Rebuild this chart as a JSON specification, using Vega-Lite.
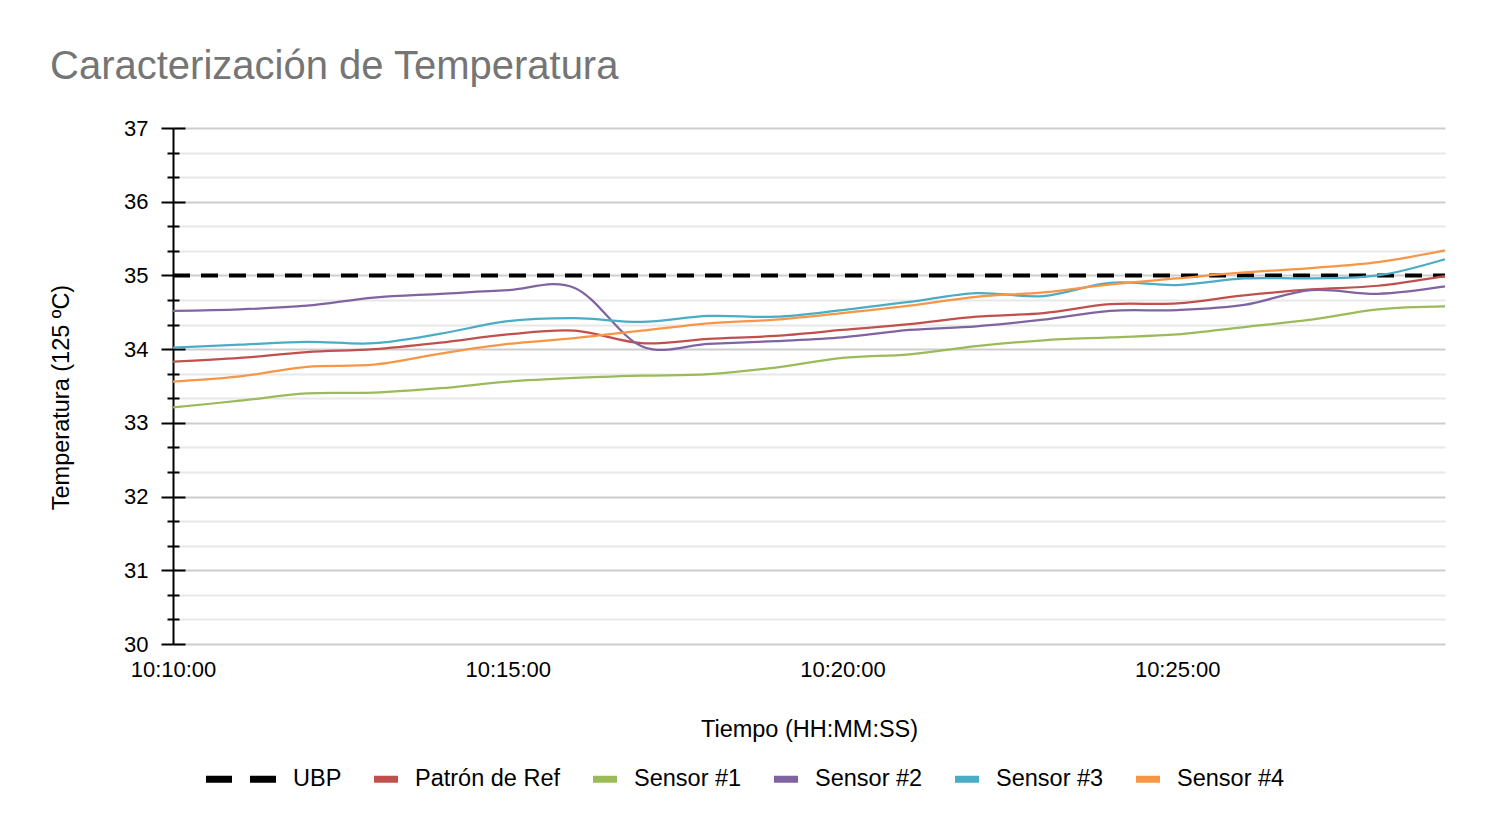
{
  "$schema": "https://vega.github.io/schema/vega-lite/v6.json",
  "width": 1272,
  "height": 516,
  "autosize": {"type": "none"},
  "padding": {"left": 173, "top": 128, "right": 50, "bottom": 187},
  "background": "white",
  "title": {"text": "Caracterización de Temperatura", "anchor": "start", "frame": "group", "dx": -123, "dy": 50, "offset": 48, "baseline": "alphabetic", "font": "Liberation Sans", "fontSize": 40, "fontWeight": "normal", "color": "#757575"},
  "config": {"view": {"stroke": null}, "font": "Liberation Sans"},
  "data": {"values": [
    {"t": "2020-01-01T10:10:00", "s": "UBP", "v": 35},
    {"t": "2020-01-01T10:29:00", "s": "UBP", "v": 35},
    {"t": "2020-01-01T10:10:00", "s": "Patrón de Ref", "v": 33.83},
    {"t": "2020-01-01T10:11:00", "s": "Patrón de Ref", "v": 33.88},
    {"t": "2020-01-01T10:12:00", "s": "Patrón de Ref", "v": 33.96},
    {"t": "2020-01-01T10:13:00", "s": "Patrón de Ref", "v": 34.00},
    {"t": "2020-01-01T10:14:00", "s": "Patrón de Ref", "v": 34.09},
    {"t": "2020-01-01T10:15:00", "s": "Patrón de Ref", "v": 34.20},
    {"t": "2020-01-01T10:16:00", "s": "Patrón de Ref", "v": 34.25},
    {"t": "2020-01-01T10:17:00", "s": "Patrón de Ref", "v": 34.08},
    {"t": "2020-01-01T10:18:00", "s": "Patrón de Ref", "v": 34.14},
    {"t": "2020-01-01T10:19:00", "s": "Patrón de Ref", "v": 34.18},
    {"t": "2020-01-01T10:20:00", "s": "Patrón de Ref", "v": 34.26},
    {"t": "2020-01-01T10:21:00", "s": "Patrón de Ref", "v": 34.34},
    {"t": "2020-01-01T10:22:00", "s": "Patrón de Ref", "v": 34.44},
    {"t": "2020-01-01T10:23:00", "s": "Patrón de Ref", "v": 34.49},
    {"t": "2020-01-01T10:24:00", "s": "Patrón de Ref", "v": 34.61},
    {"t": "2020-01-01T10:25:00", "s": "Patrón de Ref", "v": 34.62},
    {"t": "2020-01-01T10:26:00", "s": "Patrón de Ref", "v": 34.73},
    {"t": "2020-01-01T10:27:00", "s": "Patrón de Ref", "v": 34.81},
    {"t": "2020-01-01T10:28:00", "s": "Patrón de Ref", "v": 34.86},
    {"t": "2020-01-01T10:29:00", "s": "Patrón de Ref", "v": 34.99},
    {"t": "2020-01-01T10:10:00", "s": "Sensor #1", "v": 33.21},
    {"t": "2020-01-01T10:11:00", "s": "Sensor #1", "v": 33.30},
    {"t": "2020-01-01T10:12:00", "s": "Sensor #1", "v": 33.40},
    {"t": "2020-01-01T10:13:00", "s": "Sensor #1", "v": 33.41},
    {"t": "2020-01-01T10:14:00", "s": "Sensor #1", "v": 33.47},
    {"t": "2020-01-01T10:15:00", "s": "Sensor #1", "v": 33.56},
    {"t": "2020-01-01T10:16:00", "s": "Sensor #1", "v": 33.61},
    {"t": "2020-01-01T10:17:00", "s": "Sensor #1", "v": 33.64},
    {"t": "2020-01-01T10:18:00", "s": "Sensor #1", "v": 33.66},
    {"t": "2020-01-01T10:19:00", "s": "Sensor #1", "v": 33.75},
    {"t": "2020-01-01T10:20:00", "s": "Sensor #1", "v": 33.88},
    {"t": "2020-01-01T10:21:00", "s": "Sensor #1", "v": 33.93},
    {"t": "2020-01-01T10:22:00", "s": "Sensor #1", "v": 34.04},
    {"t": "2020-01-01T10:23:00", "s": "Sensor #1", "v": 34.12},
    {"t": "2020-01-01T10:24:00", "s": "Sensor #1", "v": 34.16},
    {"t": "2020-01-01T10:25:00", "s": "Sensor #1", "v": 34.20},
    {"t": "2020-01-01T10:26:00", "s": "Sensor #1", "v": 34.30},
    {"t": "2020-01-01T10:27:00", "s": "Sensor #1", "v": 34.40},
    {"t": "2020-01-01T10:28:00", "s": "Sensor #1", "v": 34.54},
    {"t": "2020-01-01T10:29:00", "s": "Sensor #1", "v": 34.58},
    {"t": "2020-01-01T10:10:00", "s": "Sensor #2", "v": 34.52},
    {"t": "2020-01-01T10:11:00", "s": "Sensor #2", "v": 34.54},
    {"t": "2020-01-01T10:12:00", "s": "Sensor #2", "v": 34.59},
    {"t": "2020-01-01T10:13:00", "s": "Sensor #2", "v": 34.70},
    {"t": "2020-01-01T10:14:00", "s": "Sensor #2", "v": 34.75},
    {"t": "2020-01-01T10:15:00", "s": "Sensor #2", "v": 34.80},
    {"t": "2020-01-01T10:16:00", "s": "Sensor #2", "v": 34.83},
    {"t": "2020-01-01T10:17:00", "s": "Sensor #2", "v": 34.04},
    {"t": "2020-01-01T10:18:00", "s": "Sensor #2", "v": 34.07},
    {"t": "2020-01-01T10:19:00", "s": "Sensor #2", "v": 34.11},
    {"t": "2020-01-01T10:20:00", "s": "Sensor #2", "v": 34.16},
    {"t": "2020-01-01T10:21:00", "s": "Sensor #2", "v": 34.26},
    {"t": "2020-01-01T10:22:00", "s": "Sensor #2", "v": 34.31},
    {"t": "2020-01-01T10:23:00", "s": "Sensor #2", "v": 34.40},
    {"t": "2020-01-01T10:24:00", "s": "Sensor #2", "v": 34.52},
    {"t": "2020-01-01T10:25:00", "s": "Sensor #2", "v": 34.53},
    {"t": "2020-01-01T10:26:00", "s": "Sensor #2", "v": 34.60},
    {"t": "2020-01-01T10:27:00", "s": "Sensor #2", "v": 34.80},
    {"t": "2020-01-01T10:28:00", "s": "Sensor #2", "v": 34.75},
    {"t": "2020-01-01T10:29:00", "s": "Sensor #2", "v": 34.85},
    {"t": "2020-01-01T10:10:00", "s": "Sensor #3", "v": 34.02},
    {"t": "2020-01-01T10:11:00", "s": "Sensor #3", "v": 34.06},
    {"t": "2020-01-01T10:12:00", "s": "Sensor #3", "v": 34.10},
    {"t": "2020-01-01T10:13:00", "s": "Sensor #3", "v": 34.08},
    {"t": "2020-01-01T10:14:00", "s": "Sensor #3", "v": 34.21},
    {"t": "2020-01-01T10:15:00", "s": "Sensor #3", "v": 34.38},
    {"t": "2020-01-01T10:16:00", "s": "Sensor #3", "v": 34.42},
    {"t": "2020-01-01T10:17:00", "s": "Sensor #3", "v": 34.37},
    {"t": "2020-01-01T10:18:00", "s": "Sensor #3", "v": 34.45},
    {"t": "2020-01-01T10:19:00", "s": "Sensor #3", "v": 34.44},
    {"t": "2020-01-01T10:20:00", "s": "Sensor #3", "v": 34.53},
    {"t": "2020-01-01T10:21:00", "s": "Sensor #3", "v": 34.64},
    {"t": "2020-01-01T10:22:00", "s": "Sensor #3", "v": 34.76},
    {"t": "2020-01-01T10:23:00", "s": "Sensor #3", "v": 34.72},
    {"t": "2020-01-01T10:24:00", "s": "Sensor #3", "v": 34.90},
    {"t": "2020-01-01T10:25:00", "s": "Sensor #3", "v": 34.87},
    {"t": "2020-01-01T10:26:00", "s": "Sensor #3", "v": 34.96},
    {"t": "2020-01-01T10:27:00", "s": "Sensor #3", "v": 34.96},
    {"t": "2020-01-01T10:28:00", "s": "Sensor #3", "v": 35.00},
    {"t": "2020-01-01T10:29:00", "s": "Sensor #3", "v": 35.22},
    {"t": "2020-01-01T10:10:00", "s": "Sensor #4", "v": 33.56},
    {"t": "2020-01-01T10:11:00", "s": "Sensor #4", "v": 33.63},
    {"t": "2020-01-01T10:12:00", "s": "Sensor #4", "v": 33.76},
    {"t": "2020-01-01T10:13:00", "s": "Sensor #4", "v": 33.79},
    {"t": "2020-01-01T10:14:00", "s": "Sensor #4", "v": 33.94},
    {"t": "2020-01-01T10:15:00", "s": "Sensor #4", "v": 34.07},
    {"t": "2020-01-01T10:16:00", "s": "Sensor #4", "v": 34.15},
    {"t": "2020-01-01T10:17:00", "s": "Sensor #4", "v": 34.25},
    {"t": "2020-01-01T10:18:00", "s": "Sensor #4", "v": 34.35},
    {"t": "2020-01-01T10:19:00", "s": "Sensor #4", "v": 34.40},
    {"t": "2020-01-01T10:20:00", "s": "Sensor #4", "v": 34.49},
    {"t": "2020-01-01T10:21:00", "s": "Sensor #4", "v": 34.59},
    {"t": "2020-01-01T10:22:00", "s": "Sensor #4", "v": 34.71},
    {"t": "2020-01-01T10:23:00", "s": "Sensor #4", "v": 34.77},
    {"t": "2020-01-01T10:24:00", "s": "Sensor #4", "v": 34.88},
    {"t": "2020-01-01T10:25:00", "s": "Sensor #4", "v": 34.96},
    {"t": "2020-01-01T10:26:00", "s": "Sensor #4", "v": 35.04},
    {"t": "2020-01-01T10:27:00", "s": "Sensor #4", "v": 35.10},
    {"t": "2020-01-01T10:28:00", "s": "Sensor #4", "v": 35.18},
    {"t": "2020-01-01T10:29:00", "s": "Sensor #4", "v": 35.34}
  ]},
  "encoding": {
    "x": {
      "field": "t", "type": "temporal",
      "scale": {"domain": [{"year": 2020, "month": 1, "date": 1, "hours": 10, "minutes": 10}, {"year": 2020, "month": 1, "date": 1, "hours": 10, "minutes": 29}]},
      "axis": {
        "values": [
          {"year": 2020, "month": 1, "date": 1, "hours": 10, "minutes": 10},
          {"year": 2020, "month": 1, "date": 1, "hours": 10, "minutes": 15},
          {"year": 2020, "month": 1, "date": 1, "hours": 10, "minutes": 20},
          {"year": 2020, "month": 1, "date": 1, "hours": 10, "minutes": 25}
        ],
        "format": "%H:%M:%S", "labelFont": "Liberation Sans", "labelFontSize": 22, "labelColor": "black",
        "labelPadding": 15, "labelFlush": false, "labelOverlap": false, "labelBound": false,
        "ticks": false, "tickSize": 0, "domain": false, "grid": false,
        "title": "Tiempo (HH:MM:SS)", "titleFont": "Liberation Sans", "titleFontSize": 23.5, "titleFontWeight": "normal",
        "titleColor": "black", "titleY": 92, "titleBaseline": "alphabetic"
      }
    }
  },
  "layer": [
    {
      "transform": [{"filter": "datum.s === 'UBP'"}],
      "mark": {"type": "line", "color": "black", "strokeWidth": 4, "strokeDash": [17, 11], "strokeCap": "butt"},
      "encoding": {
        "y": {
          "field": "v", "type": "quantitative",
          "scale": {"domain": [30, 37], "nice": false, "zero": false},
          "axis": {
            "orient": "left", "values": [30, 31, 32, 33, 34, 35, 36, 37],
            "labelFont": "Liberation Sans", "labelFontSize": 22, "labelColor": "black", "labelPadding": 13, "labelFlush": false,
            "ticks": true, "tickSize": 12, "tickColor": "black", "tickWidth": 2,
            "domain": true, "domainColor": "black", "domainWidth": 2,
            "grid": true, "gridColor": "#cdcdcd", "gridWidth": 2,
            "title": "Temperatura (125 ºC)", "titleFont": "Liberation Sans", "titleFontSize": 23.5, "titleFontWeight": "normal",
            "titleColor": "black", "titleX": -105, "titleY": 269, "titleBaseline": "alphabetic", "titleAngle": 270
          }
        }
      }
    },
    {
      "transform": [{"filter": "datum.s !== 'UBP'"}],
      "mark": {"type": "line", "interpolate": "cardinal", "strokeWidth": 2.25},
      "encoding": {
        "y": {
          "field": "v", "type": "quantitative",
          "scale": {"domain": [30, 37], "nice": false, "zero": false},
          "axis": {
            "orient": "left",
            "values": [30.3333, 30.6667, 31.3333, 31.6667, 32.3333, 32.6667, 33.3333, 33.6667, 34.3333, 34.6667, 35.3333, 35.6667, 36.3333, 36.6667],
            "labels": false, "domain": false, "title": null,
            "ticks": true, "tickSize": 6, "tickColor": "black", "tickWidth": 2,
            "grid": true, "gridColor": "#e8e8e8", "gridWidth": 2
          }
        },
        "stroke": {
          "field": "s", "type": "nominal",
          "scale": {"domain": ["Patrón de Ref", "Sensor #1", "Sensor #2", "Sensor #3", "Sensor #4"], "range": ["#C0504D", "#9BBB59", "#8064A2", "#4BACC6", "#F79646"]},
          "legend": null
        }
      }
    },
    {
      "transform": [{"filter": "false"}],
      "mark": {"type": "point", "filled": true, "strokeWidth": 0},
      "encoding": {
        "y": {
          "field": "v", "type": "quantitative",
          "scale": {"domain": [30, 37], "nice": false, "zero": false},
          "axis": {
            "orient": "left", "values": [30, 31, 32, 33, 34, 35, 36, 37],
            "labels": false, "domain": false, "title": null, "grid": false,
            "ticks": true, "tickSize": -12, "tickColor": "black", "tickWidth": 2
          }
        },
        "fill": {
          "field": "s", "type": "nominal",
          "scale": {"domain": ["UBP", "Patrón de Ref", "Sensor #1", "Sensor #2", "Sensor #3", "Sensor #4"], "range": ["#000000", "#C0504D", "#9BBB59", "#8064A2", "#4BACC6", "#F79646"]},
          "legend": {"orient": "none", "legendX": 79, "legendY": 639, "direction": "horizontal", "columns": 6, "title": null,
            "labelFont": "Liberation Sans", "labelFontSize": 23.5, "labelColor": "black", "labelLimit": 400,
            "symbolSize": 576, "symbolStrokeWidth": 0, "symbolOpacity": 1, "labelOffset": 17, "columnPadding": 32, "padding": 0}
        },
        "shape": {
          "field": "s", "type": "nominal",
          "scale": {"domain": ["UBP", "Patrón de Ref", "Sensor #1", "Sensor #2", "Sensor #3", "Sensor #4"],
            "range": [
              "M-4.833,-0.292H-2.667V0.292H-4.833Z M-1.167,-0.292H1V0.292H-1.167Z",
              "M-1,-0.292H1V0.292H-1Z",
              "M-1,-0.292H1V0.292H-1Z",
              "M-1,-0.292H1V0.292H-1Z",
              "M-1,-0.292H1V0.292H-1Z",
              "M-1,-0.292H1V0.292H-1Z"
            ]},
          "legend": {"orient": "none", "legendX": 79, "legendY": 639, "direction": "horizontal", "columns": 6, "title": null,
            "labelFont": "Liberation Sans", "labelFontSize": 23.5, "labelColor": "black", "labelLimit": 400,
            "symbolSize": 576, "symbolStrokeWidth": 0, "symbolOpacity": 1, "labelOffset": 17, "columnPadding": 32, "padding": 0}
        }
      }
    },
    {
      "transform": [{"filter": "false"}],
      "mark": {"type": "point"},
      "encoding": {
        "y": {
          "field": "v", "type": "quantitative",
          "scale": {"domain": [30, 37], "nice": false, "zero": false},
          "axis": {
            "orient": "left",
            "values": [30.3333, 30.6667, 31.3333, 31.6667, 32.3333, 32.6667, 33.3333, 33.6667, 34.3333, 34.6667, 35.3333, 35.6667, 36.3333, 36.6667],
            "labels": false, "domain": false, "title": null, "grid": false,
            "ticks": true, "tickSize": -6, "tickColor": "black", "tickWidth": 2
          }
        }
      }
    }
  ],
  "resolve": {"axis": {"y": "independent"}}
}
